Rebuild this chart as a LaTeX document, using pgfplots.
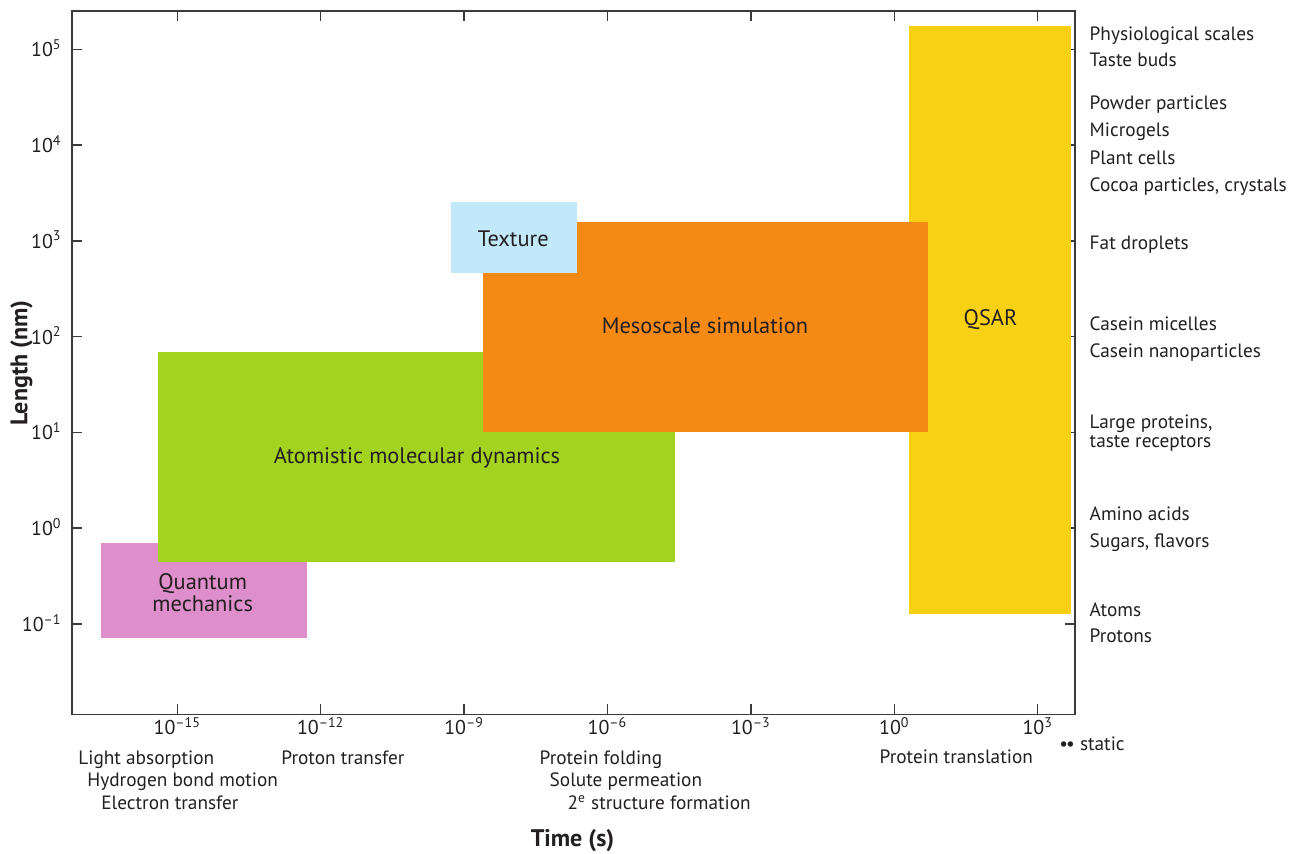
\documentclass[border=0pt]{standalone}
\usepackage{pgfplots}
\pgfplotsset{compat=1.18}
\usepackage{fontspec}
\setmainfont{PT Sans}

\definecolor{qmpink}{HTML}{DE8ECB}
\definecolor{mdgreen}{HTML}{A3D31E}
\definecolor{mesoorange}{HTML}{F48A14}
\definecolor{texblue}{HTML}{C1E9F9}
\definecolor{qsaryellow}{HTML}{F9D114}
\definecolor{ink}{HTML}{231F20}
\definecolor{axisgray}{HTML}{3A3A3A}

\newcommand\lab{\fontsize{10}{12}\selectfont}
\newcommand\side{\fontsize{9.65}{12}\selectfont}
\newcommand\boxlab{\fontsize{11.2}{13}\selectfont}
\newcommand\bigbold{\fontsize{12}{14}\selectfont\bfseries}
\newcommand\tp[1]{10\textsuperscript{#1}}

\begin{document}
\begin{tikzpicture}[font=\lab, text=ink]
\useasboundingbox (0,0) rectangle (645.5pt,426.5pt);
\begin{axis}[
  at={(36pt,69.35pt)}, anchor=south west,
  scale only axis, width=501.5pt, height=351.65pt,
  xmode=log, ymode=log,
  xmin=6.27e-18, xmax=6026,
  ymin=0.0114, ymax=2.51e5,
  xtick={1e-15,1e-12,1e-9,1e-6,1e-3,1,1e3},
  xticklabels={\tp{–15},\tp{–12},\tp{–9},\tp{–6},\tp{–3},\tp{0},\tp{3}},
  ytick={1e-1,1,1e1,1e2,1e3,1e4,1e5},
  yticklabels={\tp{–1},\tp{0},\tp{1},\tp{2},\tp{3},\tp{4},\tp{5}},
  xminorticks=false, yminorticks=false,
  tick align=inside, major tick length=5pt,
  axis line style={axisgray, line width=0.7pt},
  every tick/.style={axisgray, line width=0.7pt},
  xticklabel style={font=\lab, text=ink, anchor=base, inner sep=0pt, yshift=-10.1pt},
  yticklabel style={font=\lab, text=ink, anchor=base east, inner sep=0pt, xshift=-5pt, yshift=-3.7pt},
  clip=false,
]
% quantum mechanics
\addplot[fill=qmpink, draw=none] coordinates
  {(2.51e-17,0.0710) (5.13e-13,0.0710) (5.13e-13,0.706) (2.51e-17,0.706)} -- cycle;
% atomistic molecular dynamics
\addplot[fill=mdgreen, draw=none] coordinates
  {(3.98e-16,0.447) (2.58e-5,0.447) (2.58e-5,69.2) (3.98e-16,69.2)} -- cycle;
% QSAR
\addplot[fill=qsaryellow, draw=none] coordinates
  {(2.03,0.127) (5047,0.127) (5047,1.75e5) (2.03,1.75e5)} -- cycle;
% mesoscale simulation
\addplot[fill=mesoorange, draw=none] coordinates
  {(2.51e-9,10.0) (5.00,10.0) (5.00,1574) (2.51e-9,1574)} -- cycle;
% texture
\addplot[fill=texblue, draw=none] coordinates
  {(5.25e-10,466) (2.27e-7,466) (2.27e-7,2547) (5.25e-10,2547)} -- cycle;
\end{axis}

% annotations, in a frame measured from the top left corner
\begin{scope}[x=0.5pt, y=-0.5pt, shift={(0pt,426.5pt)}]
  \tikzset{every node/.style={inner sep=0pt}}
  % inside the boxes
  \begin{scope}[font=\boxlab]
  \node[anchor=base] at (202.7,589) {Quantum};
  \node[anchor=base] at (202.7,611.7) {mechanics};
  \node[anchor=base] at (417,463) {Atomistic molecular dynamics};
  \node[anchor=base] at (705,334) {Mesoscale simulation};
  \node[anchor=base] at (513.3,246.7) {Texture};
  \node[anchor=base] at (990.5,325.7) {QSAR};
  \end{scope}
  % length scales on the right
  \begin{scope}[font=\side]
  \foreach \t/\b in {Physiological scales/40.5, Taste buds/67, Powder particles/110,
      Microgels/137, Plant cells/164.5, {Cocoa particles, crystals}/192,
      Fat droplets/249.3, Casein micelles/331, Casein nanoparticles/357.3,
      {Large proteins,}/428.3, taste receptors/447.3, Amino acids/520,
      {Sugars, flavors}/547.7, Atoms/616, Protons/642.7}
    \node[anchor=base west] at (1089.3,\b) {\t};
  % time scales below
  \node[anchor=base west] at (78,764) {Light absorption};
  \node[anchor=base west] at (87,786) {Hydrogen bond motion};
  \node[anchor=base west] at (101,809) {Electron transfer};
  \node[anchor=base west] at (281,764) {Proton transfer};
  \node[anchor=base west] at (539.3,764) {Protein folding};
  \node[anchor=base west] at (549.3,786) {Solute permeation};
  \node[anchor=base west] at (567.3,809.3) {2\textsuperscript{e} structure formation};
  \node[anchor=base west] at (879.3,763.5) {Protein translation};
  \node[anchor=base west] at (1059,750) {\textbullet\kern-1pt\textbullet\ static};
  \end{scope}
  % axis titles
  \node[anchor=base, font=\bigbold] at (572.5,846) {Time (s)};
  \node[rotate=90, font=\bigbold] at (21.5,363) {Length (nm)};
\end{scope}
\end{tikzpicture}
\end{document}
